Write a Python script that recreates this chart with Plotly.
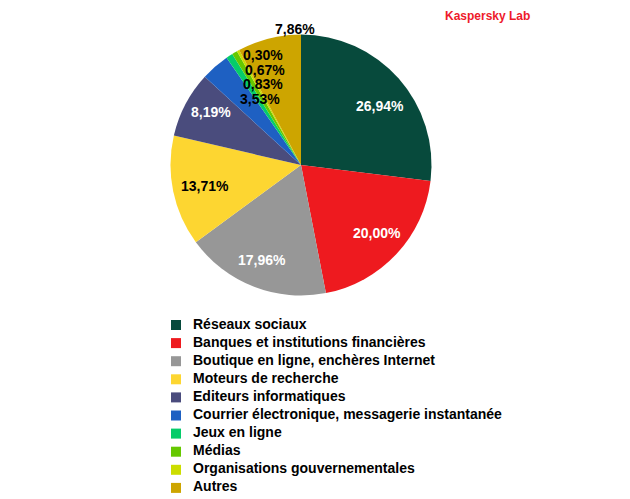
import plotly.graph_objects as go

categories = [
    "Réseaux sociaux",
    "Banques et institutions financières",
    "Boutique en ligne, enchères Internet",
    "Moteurs de recherche",
    "Editeurs informatiques",
    "Courrier électronique, messagerie instantanée",
    "Jeux en ligne",
    "Médias",
    "Organisations gouvernementales",
    "Autres",
]
values = [26.94, 20.00, 17.96, 13.71, 8.19, 3.53, 0.83, 0.67, 0.30, 7.86]
labels = ["26,94%", "20,00%", "17,96%", "13,71%", "8,19%", "3,53%", "0,83%", "0,67%", "0,30%", "7,86%"]
colors = ["#074A3C", "#EE1A1F", "#979797", "#FDD631", "#4A4C7D",
          "#1E60C2", "#05CC6A", "#66C800", "#CCDD00", "#CDA500"]
label_colors = ["white", "white", "white", "black", "white",
                "black", "black", "black", "black", "black"]

# layout: label centres in page pixels (as placed in the original chart)
label_pos = [(380, 106), (377, 233), (262, 260), (204.5, 185.5), (211, 112),
             (259.5, 98.5), (262.5, 84), (264.5, 70), (262.5, 55), (294.5, 29)]

W, H = 630, 499
OFF = 8  # page body margin offset
CX, CY, R = 301 - OFF, 165 - OFF, 130.5
FONT = "Liberation Sans, Arial, sans-serif"

fig = go.Figure()

fig.add_trace(go.Pie(
    values=values,
    labels=categories,
    marker=dict(colors=colors, line=dict(width=0)),
    sort=False,
    direction="clockwise",
    rotation=0,
    textinfo="none",
    hoverinfo="skip",
    showlegend=False,
    domain=dict(x=[(CX - R) / W, (CX + R) / W], y=[1 - (CY + R) / H, 1 - (CY - R) / H]),
))

for i, txt in enumerate(labels):
    px, py = label_pos[i][0] - OFF, label_pos[i][1] - OFF
    fig.add_annotation(
        x=px / W, y=1 - py / H, xref="paper", yref="paper",
        text=txt, showarrow=False, xanchor="center", yanchor="middle", borderpad=0,
        font=dict(family=FONT, size=14, color=label_colors[i], weight="bold"),
    )

# legend drawn on hidden axes: index = row
idx = list(range(len(categories)))
fig.add_trace(go.Scatter(
    x=[0] * len(categories), y=idx, mode="markers",
    marker=dict(symbol="square", size=10, color=colors, line=dict(width=0)),
    hoverinfo="skip", showlegend=False,
))
fig.add_trace(go.Scatter(
    x=[17] * len(categories), y=idx, mode="text", text=categories,
    textposition="middle right",
    textfont=dict(family=FONT, size=14, color="black", weight="bold"),
    hoverinfo="skip", showlegend=False,
))

MX = 176 - OFF
ROW0, STEP = 325 - OFF, 18.1
fig.update_xaxes(range=[-MX, W - MX], visible=False, fixedrange=True)
fig.update_yaxes(range=[(H - ROW0) / STEP, -ROW0 / STEP], visible=False, fixedrange=True)

fig.add_annotation(
    x=(487.5 - OFF) / W, y=1, xref="paper", yref="paper", text="Kaspersky Lab",
    showarrow=False, xanchor="center", yanchor="top", borderpad=0,
    font=dict(family=FONT, size=12, color="#EE1A2B", weight="bold"),
)

fig.update_layout(
    width=W, height=H,
    margin=dict(l=0, r=0, t=0, b=0),
    paper_bgcolor="white", plot_bgcolor="white",
    hovermode=False,
)

fig.write_html("out.html")
